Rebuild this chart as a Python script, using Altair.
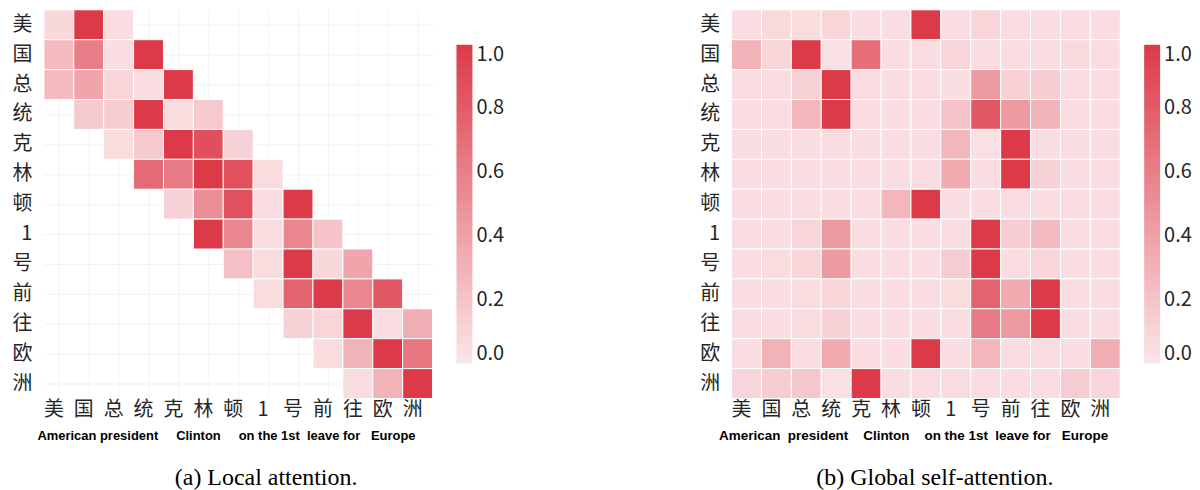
import altair as alt
import pandas as pd

tokens = ["美", "国", "总", "统", "克", "林", "顿", "1", "号", "前", "往", "欧", "洲"]
N = None

# Local attention (blank cells = None)
local_attn = [
    [0.08, 1.00, 0.05, N, N, N, N, N, N, N, N, N, N],
    [0.25, 0.60, 0.05, 1.00, N, N, N, N, N, N, N, N, N],
    [0.25, 0.38, 0.10, 0.05, 1.00, N, N, N, N, N, N, N, N],
    [N, 0.16, 0.14, 1.00, 0.06, 0.17, N, N, N, N, N, N, N],
    [N, N, 0.06, 0.17, 1.00, 0.88, 0.12, N, N, N, N, N, N],
    [N, N, N, 0.72, 0.62, 1.00, 0.87, 0.06, N, N, N, N, N],
    [N, N, N, N, 0.12, 0.52, 0.87, 0.05, 1.00, N, N, N, N],
    [N, N, N, N, N, 1.00, 0.56, 0.06, 0.56, 0.20, N, N, N],
    [N, N, N, N, N, N, 0.22, 0.06, 1.00, 0.08, 0.38, N, N],
    [N, N, N, N, N, N, N, 0.06, 0.76, 1.00, 0.56, 0.82, N],
    [N, N, N, N, N, N, N, N, 0.12, 0.10, 1.00, 0.05, 0.32],
    [N, N, N, N, N, N, N, N, N, 0.06, 0.30, 1.00, 0.65],
    [N, N, N, N, N, N, N, N, N, N, 0.06, 0.30, 1.00],
]

# Global self-attention
global_attn = [
    [0.05, 0.07, 0.06, 0.10, 0.05, 0.05, 1.00, 0.05, 0.10, 0.05, 0.05, 0.05, 0.05],
    [0.30, 0.10, 1.00, 0.03, 0.70, 0.05, 0.05, 0.10, 0.05, 0.05, 0.05, 0.07, 0.05],
    [0.05, 0.05, 0.12, 1.00, 0.05, 0.05, 0.05, 0.04, 0.45, 0.13, 0.15, 0.05, 0.05],
    [0.05, 0.05, 0.28, 1.00, 0.05, 0.05, 0.05, 0.20, 0.82, 0.45, 0.30, 0.05, 0.05],
    [0.05, 0.05, 0.05, 0.05, 0.05, 0.05, 0.05, 0.28, 0.03, 1.00, 0.05, 0.05, 0.05],
    [0.05, 0.05, 0.05, 0.05, 0.05, 0.05, 0.05, 0.35, 0.05, 1.00, 0.12, 0.05, 0.05],
    [0.05, 0.05, 0.05, 0.05, 0.05, 0.28, 1.00, 0.05, 0.05, 0.05, 0.05, 0.05, 0.05],
    [0.05, 0.05, 0.10, 0.45, 0.05, 0.05, 0.05, 0.05, 1.00, 0.15, 0.25, 0.05, 0.05],
    [0.05, 0.06, 0.10, 0.45, 0.05, 0.05, 0.05, 0.15, 1.00, 0.05, 0.10, 0.05, 0.05],
    [0.05, 0.05, 0.06, 0.10, 0.05, 0.05, 0.05, 0.06, 0.76, 0.35, 1.00, 0.05, 0.05],
    [0.05, 0.05, 0.06, 0.12, 0.05, 0.05, 0.05, 0.05, 0.62, 0.45, 1.00, 0.05, 0.05],
    [0.05, 0.30, 0.05, 0.35, 0.05, 0.05, 1.00, 0.05, 0.28, 0.05, 0.05, 0.05, 0.33],
    [0.10, 0.15, 0.18, 0.03, 1.00, 0.05, 0.06, 0.06, 0.05, 0.05, 0.05, 0.15, 0.10],
]

legend_values = [0.0, 0.2, 0.4, 0.6, 0.8, 1.0]
color_range = ["#FAE6E8", "#DC3A48"]

NB = "\u00a0"
english_left = ("American president" + NB * 5 + "Clinton" + NB * 5 + "on the 1st"
                + NB * 2 + "leave for" + NB * 3 + "Europe")
english_right = ("American" + NB * 2 + "president" + NB * 4 + "Clinton" + NB * 4 + "on the 1st"
                 + NB * 2 + "leave for" + NB * 3 + "Europe")

caption_left = "(a) Local attention."
caption_right = "(b) Global self-attention."


def to_df(matrix):
    recs = []
    for i, row in enumerate(matrix):
        for j, v in enumerate(row):
            if v is not None:
                recs.append({"row": tokens[i], "col": tokens[j], "value": v})
    return pd.DataFrame(recs)


def panel(matrix, english, caption, title_x, title_size, cap_dx):
    return alt.Chart(to_df(matrix)).mark_rect(stroke="white", strokeWidth=1).encode(
        x=alt.X("col:N", sort=tokens, scale=alt.Scale(domain=tokens),
                axis=alt.Axis(title=english, titleFont="Liberation Sans", titleFontSize=title_size,
                              titleFontWeight="bold", titleColor="black",
                              titleAnchor="start", titleAlign="left", titleX=title_x,
                              titleY=37, titleBaseline="middle",
                              labelPadding=1, labelOffset=-5, zindex=0)),
        y=alt.Y("row:N", sort=tokens, scale=alt.Scale(domain=tokens),
                axis=alt.Axis(title=None, labelPadding=12, zindex=0)),
        color=alt.Color("value:Q",
                        scale=alt.Scale(domain=[0, 1], range=color_range, interpolate="rgb"),
                        legend=alt.Legend(orient="none", legendX=414, legendY=35,
                                          direction="vertical", title=None,
                                          gradientLength=320, gradientThickness=16,
                                          gradientStrokeWidth=0, values=legend_values,
                                          format=".1f", labelFont="Noto Sans CJK SC",
                                          labelFontSize=20, labelColor="#262626",
                                          labelOffset=4, labelOverlap=False,
                                          labelBaseline="middle")),
    ).properties(
        width=390, height=390,
        title=alt.TitleParams(caption, orient="bottom", anchor="middle",
                              font="Liberation Serif", fontSize=24, fontWeight="normal",
                              color="black", offset=24, dx=cap_dx),
    )


left = panel(local_attn, english_left, caption_left, -7, 13, 28)
right = panel(global_attn, english_right, caption_right, -13, 13.5, 9)

chart = alt.hconcat(left, right, spacing=196).resolve_scale(color="independent").properties(
    padding={"left": 4, "top": 0, "right": 0, "bottom": 0}
).configure_view(strokeWidth=0).configure_axis(
    labelFont="Noto Sans CJK SC", labelFontSize=20, labelColor="#262626", labelAngle=0,
    domain=False, ticks=False, grid=True, gridColor="#F2F2F2", gridWidth=1,
    bandPosition=0.5,
)

chart.save("out.html", embed_options={"renderer": "svg", "actions": False})
